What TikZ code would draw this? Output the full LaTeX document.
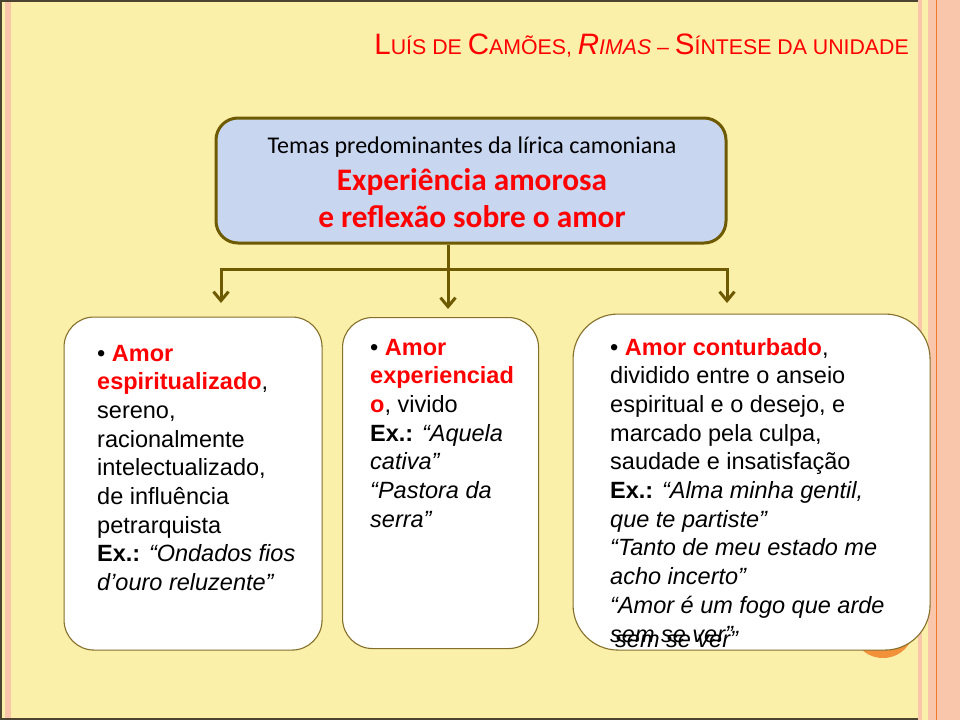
\documentclass[tikz,border=0pt]{standalone}
\usepackage{fontspec}
\setmainfont{Liberation Sans}
\newfontfamily\carl{Carlito}
\usetikzlibrary{arrows.meta}
\definecolor{bgy}{HTML}{FAF0AA}
\definecolor{pinks}{HTML}{F9C6AC}
\definecolor{orl}{HTML}{F07A28}
\definecolor{olv}{HTML}{6E5A00}
\definecolor{olvthin}{HTML}{85702A}
\definecolor{topfill}{HTML}{C8D6F0}
\definecolor{circ}{HTML}{F3903A}
\definecolor{framec}{HTML}{4A4430}
\newcommand\BC[1]{{\fontsize{29.5}{29.5}\selectfont #1}}
\tikzset{
  card/.style={draw=olvthin, line width=1.1pt, fill=white, inner sep=0pt, anchor=north west},
  body/.style={anchor=base west, inner sep=0pt, font=\fontsize{23.5}{28.7}\selectfont},
  conn/.style={draw=olv, line width=3pt},
  tip/.style={conn, -{Straight Barb[length=9pt,width=15pt,line width=3pt]}},
}
\newcommand\rb[1]{\textcolor{red}{\bfseries #1}}
\begin{document}
\begin{tikzpicture}[x=1pt,y=-1pt]
\useasboundingbox (0,0) rectangle (960,720);
% background
\fill[bgy] (0,0) rectangle (960,720);
\fill[pinks] (5,0) rectangle (11,720);
\fill[pinks] (918,0) rectangle (922,720);
\fill[pinks] (928,0) rectangle (960,720);
\draw[orl, line width=1pt] (936,0) -- (936,720);
\draw[framec, line width=1.5pt] (918,0.75) -- (0.75,0.75) -- (0.75,719) -- (918,719);
% title
\node[anchor=base east, inner sep=0pt, text=red, font=\fontsize{21.3}{21.3}\selectfont] (title) at (909,54)
  {\BC{L}UÍS DE \BC{C}AMÕES, \textit{\BC{R}IMAS} – \BC{S}ÍNTESE DA UNIDADE};
% top box
\node[draw=olv, line width=3pt, fill=topfill, rounded corners=22pt, minimum width=510pt, minimum height=125pt, anchor=north west, inner sep=0pt] (top) at (214.5,116.5) {};
\node[anchor=base, inner sep=0pt, font=\carl\fontsize{24}{24}\selectfont] (t1) at (472,153) {Temas predominantes da lírica camoniana};
\node[anchor=base, inner sep=0pt, text=red, font=\carl\bfseries\fontsize{31.3}{31.3}\selectfont] (t2) at (472,190) {Experiência amorosa};
\node[anchor=base, inner sep=0pt, text=red, font=\carl\bfseries\fontsize{31.3}{31.3}\selectfont] (t3) at (472,227) {e reflexão sobre o amor};
% connectors
\coordinate (hub) at (448,269);
\coordinate (e1) at (221,303);
\coordinate (e2) at (448,309);
\coordinate (e3) at (727,303);
\draw[conn] (top.south -| hub) -- (hub);
\draw[tip] (hub) -| (e1);
\draw[tip] (hub) -- (e2);
\draw[tip] (hub) -| (e3);
% orange circle behind right card
\fill[circ] (883,627) circle (31);
% cards
\node[card, rounded corners=30pt, minimum width=258pt, minimum height=333pt] (c1) at (63.5,316.5) {};
\node[card, rounded corners=30pt, minimum width=196pt, minimum height=331pt] (c2) at (342,317) {};
\node[card, rounded corners=45pt, minimum width=357pt, minimum height=336pt] (c3) at (572.5,313.5) {};
% card texts
\node[body] (x1) at (97,361) {\parbox[t]{240pt}{\raggedright
• \rb{Amor}\\ \rb{espiritualizado},\\ sereno,\\ racionalmente\\ intelectualizado,\\ de influência\\ petrarquista\\ \textbf{Ex.:} \textit{“Ondados fios\\ d’ouro reluzente”}}};
\node[body] (x2) at (370,355) {\parbox[t]{180pt}{\raggedright
• \rb{Amor}\\ \rb{experienciad}\\ \rb{o}, vivido\\ \textbf{Ex.:} \textit{“Aquela\\ cativa”\\ “Pastora da\\ serra”}}};
\node[body] (x3) at (610,355) {\parbox[t]{330pt}{\raggedright
• \rb{Amor conturbado},\\ dividido entre o anseio\\ espiritual e o desejo, e\\ marcado pela culpa,\\ saudade e insatisfação\\ \textbf{Ex.:} \textit{“Alma minha gentil,\\ que te partiste”\\ “Tanto de meu estado me\\ acho incerto”\\ “Amor é um fogo que arde\\ sem se ver”}}};
\node[body, font=\fontsize{23.5}{28.7}\selectfont\itshape] (x3b) at (615,647) {sem se ver”};
\end{tikzpicture}
\end{document}
